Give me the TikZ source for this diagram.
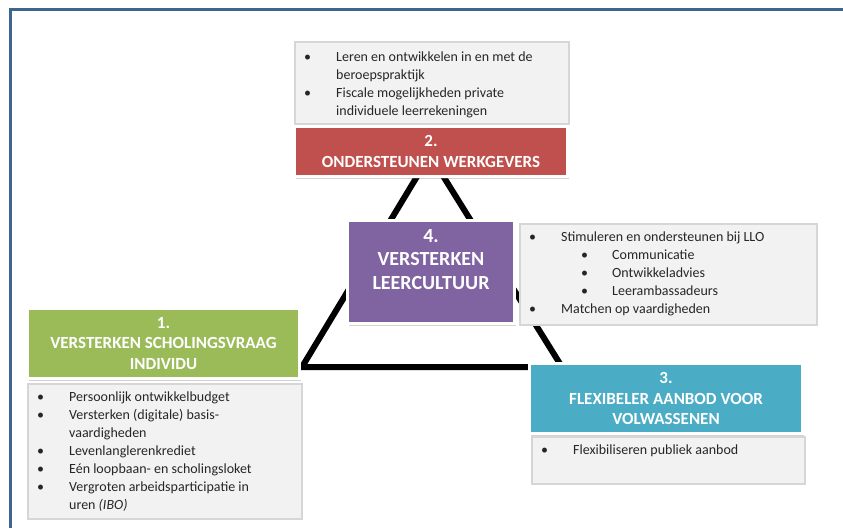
\documentclass[tikz,border=0pt]{standalone}
\usepackage{fontspec}
\setmainfont{Carlito}
\usetikzlibrary{shadows}
\definecolor{framec}{HTML}{3C6592}
\definecolor{grayfill}{HTML}{F2F2F2}
\definecolor{grayline}{HTML}{D6D6D6}
\definecolor{redc}{HTML}{C0504D}
\definecolor{purc}{HTML}{8064A2}
\definecolor{grnc}{HTML}{9BBB59}
\definecolor{bluc}{HTML}{4BACC6}
\newcommand{\bi}[1]{\makebox[34pt][l]{\hspace*{2pt}\textbullet}#1}
\newcommand{\bc}[1]{\hspace*{34pt}#1}
\newcommand{\sbi}[1]{\hspace*{52pt}\makebox[33pt][l]{\hspace*{2pt}\textbullet}#1}
\begin{document}
\begin{tikzpicture}[x=1pt,y=-1pt,
  graybox/.style={draw=grayline,line width=2pt,fill=grayfill,inner sep=0pt},
  hdr/.style={draw=white,line width=2.5pt,inner sep=0pt,text=white,align=center,
    font=\fontsize{17}{20.5}\selectfont\bfseries,
    drop shadow={opacity=0.35,shadow xshift=1pt,shadow yshift=-2pt}},
  bullets/.style={anchor=base west,align=left,inner sep=0pt,text=black!85,
    font=\fontsize{14}{18}\selectfont},
  tri/.style={line width=6pt,black,line join=miter}]
\useasboundingbox (0,0) rectangle (843,528);
\fill[white] (0,0) rectangle (843,528);
% frame
\draw[framec,line width=3pt] (843,9.5) -- (10.5,9.5) -- (10.5,528);
% triangle
\coordinate (apex) at (430,155);
\coordinate (bl) at (302,367);
\coordinate (br) at (562,367);
\draw[tri] (bl) -- (apex) -- (br) -- cycle;
% box 2
\node[graybox,minimum width=274,minimum height=82] (g2) at (431.5,83) {};
\node[bullets] (t2) at (302,115.5) {\bi{Leren en ontwikkelen in en met de}\\\bc{beroepspraktijk}\\\bi{Fiscale mogelijkheden private}\\\bc{individuele leerrekeningen}};
\node[hdr,fill=redc,minimum width=273,minimum height=50] (h2) at (431,151.5) {2.\\ONDERSTEUNEN WERKGEVERS};
% box 4
\node[graybox,minimum width=297,minimum height=101] (g4) at (668,274) {};
\node[bullets] (t4) at (527,313.5) {\bi{Stimuleren en ondersteunen bij LLO}\\\sbi{Communicatie}\\\sbi{Ontwikkeladvies}\\\sbi{Leerambassadeurs}\\\bi{Matchen op vaardigheden}};
\node[hdr,fill=purc,minimum width=167,minimum height=103] (h4) at (431,272) {};
\node[align=center,text=white,inner sep=0pt,font=\fontsize{20}{23.5}\selectfont\bfseries] (h4t) at (431,259.5) {4.\\VERSTERKEN\\LEERCULTUUR};
% box 1
\node[graybox,minimum width=274,minimum height=135] (g1) at (164.5,451) {};
\node[bullets] (t1) at (35,509.5) {\bi{Persoonlijk ontwikkelbudget}\\\bi{Versterken (digitale) basis-}\\\bc{vaardigheden}\\\bi{Levenlanglerenkrediet}\\\bi{Eén loopbaan- en scholingsloket}\\\bi{Vergroten arbeidsparticipatie in}\\\bc{uren \textit{(IBO)}}};
\node[hdr,fill=grnc,minimum width=272,minimum height=70] (h1) at (163.5,343.5) {1.\\VERSTERKEN SCHOLINGSVRAAG\\INDIVIDU};
% box 3
\node[graybox,minimum width=273,minimum height=47] (g3) at (668,460) {};
\node[bullets] (t3) at (539,454.5) {\bi{Flexibiliseren publiek aanbod}};
\node[hdr,fill=bluc,minimum width=273,minimum height=70] (h3) at (666,398.5) {3.\\FLEXIBELER AANBOD VOOR\\VOLWASSENEN};
\end{tikzpicture}
\end{document}
